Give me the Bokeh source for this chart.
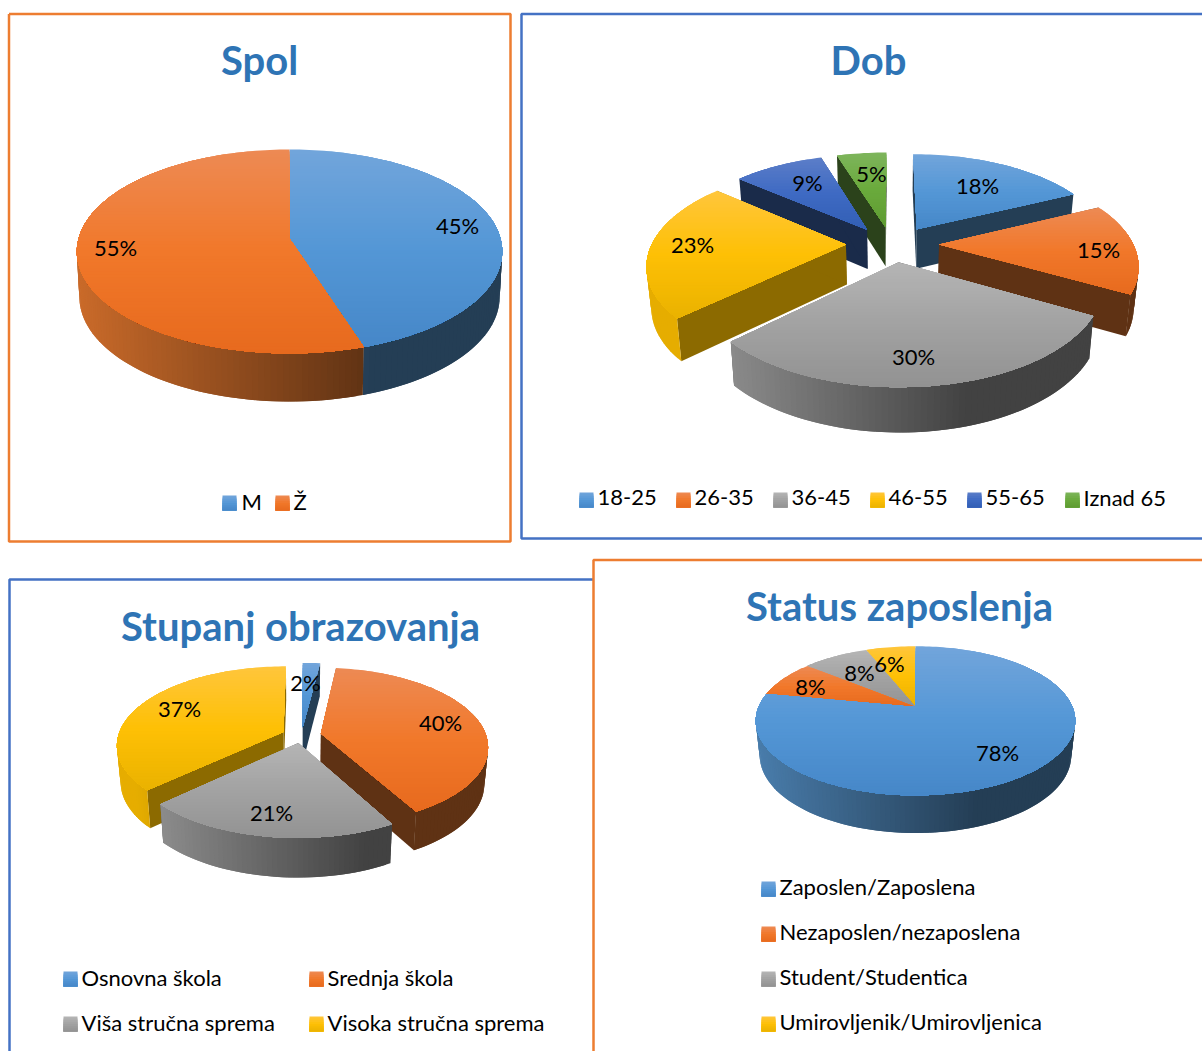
import math
import numpy as np
from bokeh.plotting import figure
from bokeh.models import Range1d
from bokeh.core.properties import value
from bokeh.embed import file_html
from bokeh.resources import INLINE

# ---- data ----
spol_title = "Spol"
spol_labels = ["M", "Ž"]
spol_values = [45, 55]

dob_title = "Dob"
dob_labels = ["18-25", "26-35", "36-45", "46-55", "55-65", "Iznad 65"]
dob_values = [18, 15, 30, 23, 9, 5]

obr_title = "Stupanj obrazovanja"
obr_labels = ["Osnovna škola", "Srednja škola", "Viša stručna sprema", "Visoka stručna sprema"]
obr_values = [2, 40, 21, 37]

status_title = "Status zaposlenja"
status_labels = ["Zaposlen/Zaposlena", "Nezaposlen/nezaposlena", "Student/Studentica", "Umirovljenik/Umirovljenica"]
status_values = [78, 8, 8, 6]

# ---- styles ----
PALETTE = [
    dict(base=(91, 155, 213), stops=[(114, 165, 219), (84, 151, 214), (70, 135, 200)], wall=.40),
    dict(base=(237, 125, 49), stops=[(237, 138, 84), (241, 120, 42), (231, 106, 30)], wall=.40),
    dict(base=(165, 165, 165), stops=[(181, 181, 181), (162, 162, 162), (146, 146, 146)], wall=.40),
    dict(base=(255, 192, 0), stops=[(255, 198, 60), (254, 192, 5), (234, 178, 0)], wall=.55),
    dict(base=(68, 114, 196), stops=[(92, 126, 200), (62, 106, 195), (50, 95, 180)], wall=.38),
    dict(base=(112, 173, 71), stops=[(126, 181, 92), (106, 170, 60), (95, 155, 50)], wall=.38),
]
TITLE_COLOR = "#2E74B5"
ORANGE = "#ED7D31"
BLUE = "#4472C4"
FONT = "Lato"
LABEL_SIZE = "22px"
TITLE_SIZE = "40px"

W, H = 1202, 1051
p = figure(width=W, height=H, output_backend="svg", toolbar_location=None,
           x_range=Range1d(0, W), y_range=Range1d(H, 0), min_border=0,
           x_axis_location=None, y_axis_location=None, outline_line_color=None)
p.grid.visible = False
p.background_fill_color = "white"
p.border_fill_color = "white"


def rgb(c):
    return "#%02x%02x%02x" % tuple(int(round(max(0, min(255, v)))) for v in c)


def mix(a, b, t):
    return tuple(a[i] + (b[i] - a[i]) * t for i in range(3))


def grad(stops, t):
    if t < .5:
        return mix(stops[0], stops[1], t * 2)
    return mix(stops[1], stops[2], (t - .5) * 2)


def clip_below(pts, y0):
    out = []
    for i in range(len(pts)):
        a, b = pts[i], pts[(i + 1) % len(pts)]
        ia, ib = a[1] >= y0, b[1] >= y0
        if ia:
            out.append(a)
        if ia != ib:
            t = (y0 - a[1]) / (b[1] - a[1])
            out.append((a[0] + (b[0] - a[0]) * t, y0))
    return out


class Batch:
    def __init__(self):
        self.xs, self.ys, self.c = [], [], []

    def add(self, pts, color):
        self.xs.append([q[0] for q in pts])
        self.ys.append([q[1] for q in pts])
        self.c.append(color)

    def flush(self):
        if self.xs:
            p.patches(self.xs, self.ys, fill_color=self.c, line_color=None)
        self.__init__()


def pie(values, g):
    cx, cy, rx, ry, k, d, ex, ey, bs = (g["cx"], g["cy"], g["rx"], g["ry"], g["k"], g["d"],
                                        g["ex"], g["ey"], g["bs"])

    def proj(u, v, h):
        s = 1 / (1 + k * v)
        return (cx + rx * u * s * (1 - bs * h), cy - ry * v * s + d * h * s ** .5)

    total = float(sum(values))
    slices = []
    acc = 0.0
    for i, val in enumerate(values):
        a0 = acc / total * 2 * math.pi
        acc += val
        a1 = acc / total * 2 * math.pi
        slices.append((i, a0, a1, (a0 + a1) / 2))
    slices.sort(key=lambda t: -math.cos(t[3]))
    b = Batch()
    for i, a0, a1, am in slices:
        pal = PALETTE[i]
        ou, ov = ex * math.sin(am), ey * math.cos(am)
        n = max(2, int((a1 - a0) / math.radians(1.5)))
        angs = np.linspace(a0, a1, n + 1)
        col_w = rgb(tuple(c * pal["wall"] for c in pal["base"]))
        # radial walls
        if ex > 0:
            for edge in (a0, a1):
                q = [proj(ou, ov, 0), proj(ou + math.sin(edge), ov + math.cos(edge), 0),
                     proj(ou + math.sin(edge), ov + math.cos(edge), 1), proj(ou, ov, 1)]
                b.add(q, col_w)
        # rim: every strip overlaps the next one so that no seam shows
        for j in range(n):
            t0, t1 = angs[j], angs[min(j + 2, n)]
            if math.cos((angs[j] + angs[j + 1]) / 2) > .25:
                continue
            q = [proj(ou + math.sin(t0), ov + math.cos(t0), 0), proj(ou + math.sin(t1), ov + math.cos(t1), 0),
                 proj(ou + math.sin(t1), ov + math.cos(t1), 1), proj(ou + math.sin(t0), ov + math.cos(t0), 1)]
            tx = (q[0][0] - (cx - rx)) / (2 * rx)
            f = g["f0"] + (.40 - g["f0"]) * min(1, max(0, tx / .7))
            b.add(q, rgb(tuple(c * f for c in pal["base"])))
        # top: vertical gradient painted as shrinking copies of the slice
        poly = [proj(ou, ov, 0)] + [proj(ou + math.sin(t), ov + math.cos(t), 0) for t in angs]
        y_min = min(q[1] for q in poly)
        y_max = max(q[1] for q in poly)
        y = y_min - 1
        step = 3.0
        while y < y_max:
            part = clip_below(poly, y)
            if len(part) >= 3:
                b.add(part, rgb(grad(pal["stops"], max(0, (y + step / 2 - y_min) / (y_max - y_min)))))
            y += step
    b.flush()


def square(x, y, i, size=15):
    b = Batch()
    n = 8
    for j in range(n):
        y0 = y + size * j / n
        b.add([(x, y0), (x + size - 1, y0), (x + size - 1, y + size), (x, y + size)],
              rgb(grad(PALETTE[i]["stops"], (j + .5) / n)))
    b.flush()


def text(xs, ys, labels, size=LABEL_SIZE, color="black", align="left", style="normal"):
    # Lato sits about 2px lower than the reference's face for the same anchor
    p.text(xs, [v - 2 for v in ys], text=labels, text_font=value(FONT), text_font_size=size, text_color=color,
           text_align=align, text_baseline="middle", text_font_style=style)


def data_labels(values, xs, ys):
    text(xs, ys, [f"{v}%" for v in values], align="center")


# ---- frames ----
p.multi_line([[8.5, 510, 510, 8.5, 8.5]], [[13.5, 13.5, 541, 541, 13.5]], line_color=ORANGE, line_width=2.5)
p.multi_line([[1210, 521, 521, 1210]], [[13.5, 13.5, 538, 538]], line_color=BLUE, line_width=2.5)
p.multi_line([[593, 9, 9]], [[579, 579, 1060]], line_color=BLUE, line_width=2.5)
p.multi_line([[1210, 593, 593]], [[559.5, 559.5, 1060]], line_color=ORANGE, line_width=2.5)

# ---- pies ----
pie(spol_values, dict(cx=289, cy=238, rx=211, ry=100.3, k=.127, d=45, ex=0, ey=0, bs=.012, f0=.85))
pie(dob_values, dict(cx=892, cy=243.5, rx=194, ry=94, k=.185, d=40, ex=.24, ey=.19, bs=.02, f0=.9))
pie(obr_values, dict(cx=301, cy=734.5, rx=165, ry=77, k=.16, d=36, ex=.12, ey=.102, bs=.02, f0=.9))
pie(status_values, dict(cx=915, cy=706.5, rx=157, ry=72, k=.185, d=34, ex=0, ey=0, bs=.025, f0=.8))

# ---- titles ----
text([259, 868, 300, 899], [61, 61, 627, 607], [spol_title, dob_title, obr_title, status_title],
     size=TITLE_SIZE, color=TITLE_COLOR, align="center", style="bold")

# ---- data labels ----
data_labels(spol_values, [457, 115], [227, 249])
data_labels(dob_values, [977, 1098, 913, 692, 807, 871], [187, 251, 358, 246, 184, 175])
data_labels(obr_values, [305, 440, 271, 179], [684, 724, 814, 710])
data_labels(status_values, [997, 810, 859, 889], [754, 688, 674, 665])

# ---- legends ----
for i, (x, y) in enumerate([(222, 495), (275, 495)]):
    square(x, y, i)
text([241, 293], [503, 503], spol_labels)

dob_x = [579, 676, 773, 870, 967, 1065]
for i, x in enumerate(dob_x):
    square(x, 492, i)
text([v + 18 for v in dob_x], [499] * 6, dob_labels)

for i, (x, y) in enumerate([(63, 971), (309, 971), (63, 1016), (309, 1016)]):
    square(x, y, i)
text([81, 327, 81, 327], [979, 979, 1024, 1024], obr_labels)

for i, y in enumerate([881, 926, 971, 1016]):
    square(761, y, i)
text([779] * 4, [888, 933, 978, 1023], status_labels)

open("out.html", "w").write(file_html(p, INLINE))
